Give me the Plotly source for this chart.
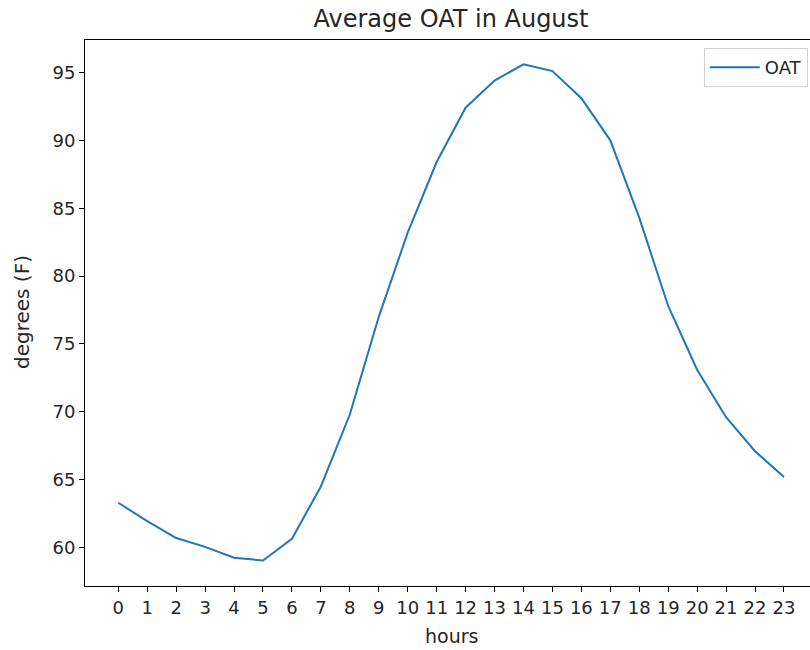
import plotly.graph_objects as go

# Average outside air temperature by hour of day, August
hours = list(range(24))
oat = [63.3, 61.95, 60.7, 60.05, 59.25, 59.05, 60.65, 64.5, 69.8, 77.0, 83.2, 88.4,
       92.4, 94.4, 95.6, 95.1, 93.1, 90.0, 84.3, 77.8, 73.1, 69.6, 67.1, 65.2]
tick_labels = [str(h) for h in hours]
y_ticks = [60, 65, 70, 75, 80, 85, 90, 95]

FONT = "DejaVu Sans"
TEXT = "#262626"
W, H = 810, 650
L, R, T, B = 85, 0, 40, 64
plot_w, plot_h = W - L - R, H - T - B


def px_to_paper_x(px):
    return (px - L) / plot_w


def px_to_paper_y(py):
    return (H - B - py) / plot_h


fig = go.Figure()
fig.add_trace(go.Scatter(
    x=hours, y=oat, mode="lines", name="OAT",
    line=dict(color="#1f77b4", width=2),
))

fig.update_layout(
    width=W, height=H,
    margin=dict(l=L, r=R, t=T, b=B),
    paper_bgcolor="white", plot_bgcolor="white",
    font=dict(family=FONT, size=18, color=TEXT),
    title=dict(text="Average OAT in August", x=451 / W, xanchor="center",
               y=1 - 19 / H, yanchor="middle",
               font=dict(family=FONT, size=24, color=TEXT)),
    showlegend=True,
    legend=dict(x=0.997, y=px_to_paper_y(48), xanchor="right", yanchor="top",
                itemwidth=50,
                bgcolor="rgba(255,255,255,0.8)", bordercolor="#d0d0d0", borderwidth=1,
                font=dict(family=FONT, size=18, color=TEXT)),
    xaxis=dict(
        range=[-1.15, 23.9], tickmode="array", tickvals=hours, ticktext=tick_labels,
        showgrid=False, zeroline=False, showline=True, linecolor="black", linewidth=1,
        mirror=True, ticks="outside", ticklen=5, tickcolor="black",
        tickfont=dict(family=FONT, size=18, color=TEXT),
    ),
    yaxis=dict(
        range=[57.17, 97.39], tickmode="array", tickvals=y_ticks,
        showgrid=False, zeroline=False, showline=True, linecolor="black", linewidth=1,
        mirror=False, ticks="outside", ticklen=5, tickcolor="black",
        tickfont=dict(family=FONT, size=18, color=TEXT),
    ),
    annotations=[
        dict(text="hours", xref="paper", yref="paper",
             x=px_to_paper_x(451), y=px_to_paper_y(636),
             xanchor="center", yanchor="middle", showarrow=False,
             font=dict(family=FONT, size=19, color=TEXT)),
        dict(text="degrees (F)", xref="paper", yref="paper", textangle=-90,
             x=px_to_paper_x(22), y=px_to_paper_y(312),
             xanchor="center", yanchor="middle", showarrow=False,
             font=dict(family=FONT, size=20, color=TEXT)),
    ],
)

fig.write_html("out.html")
